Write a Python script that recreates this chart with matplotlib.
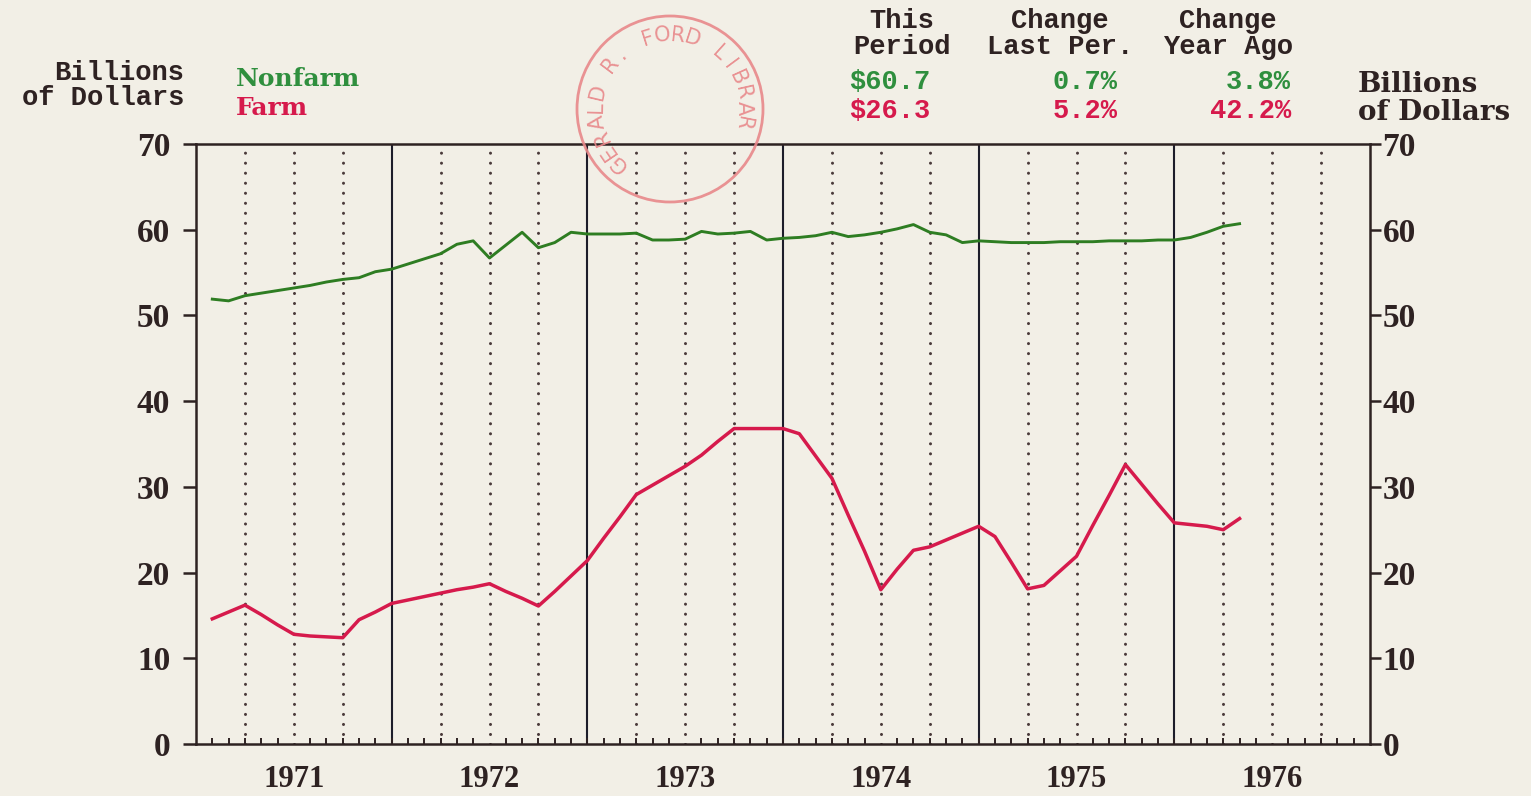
import numpy as np
import matplotlib.pyplot as plt
from matplotlib.patches import Circle

# monthly points, month 1 = Feb 1971 position (axis starts Jan 1971)
months = np.arange(1, 65)

nonfarm = [51.9, 51.7, 52.3, 52.6, 52.9, 53.2, 53.5, 53.9, 54.2, 54.4, 55.1, 55.4,
           56.0, 56.6, 57.2, 58.3, 58.7, 56.7, 58.2, 59.7, 57.9, 58.5, 59.7, 59.5,
           59.5, 59.5, 59.6, 58.8, 58.8, 58.9, 59.8, 59.5, 59.6, 59.8, 58.8, 59.0,
           59.1, 59.3, 59.7, 59.2, 59.4, 59.7, 60.1, 60.6, 59.7, 59.4, 58.5, 58.7,
           58.6, 58.5, 58.5, 58.5, 58.6, 58.6, 58.6, 58.7, 58.7, 58.7, 58.8, 58.8,
           59.1, 59.7, 60.4, 60.7]

farm = [14.6, 15.4, 16.2, 15.1, 13.9, 12.8, 12.6, 12.5, 12.4, 14.5, 15.4, 16.4,
        16.8, 17.2, 17.6, 18.0, 18.3, 18.7, 17.8, 17.0, 16.1, 17.8, 19.6, 21.4,
        24.0, 26.5, 29.1, 30.2, 31.3, 32.4, 33.7, 35.3, 36.8, 36.8, 36.8, 36.8,
        36.2, 33.6, 31.0, 26.7, 22.5, 18.0, 20.4, 22.6, 23.0, 23.8, 24.6, 25.4,
        24.2, 21.2, 18.1, 18.5, 20.2, 21.9, 25.5, 29.0, 32.6, 30.3, 28.0, 25.8,
        25.6, 25.4, 25.0, 26.3]

years = ['1971', '1972', '1973', '1974', '1975', '1976']
y_ticks = [0, 10, 20, 30, 40, 50, 60, 70]

header = [('This\nPeriod', 902), ('Change\nLast Per.', 1060), ('Change\nYear Ago', 1228)]
nonfarm_row = ['$60.7', '0.7%', '3.8%']
farm_row = ['$26.3', '5.2%', '42.2%']

bg = '#f2efe6'
ink = '#2e2222'
green_txt = '#2f8f3e'
green_line = '#2e7d22'
red = '#d61a4c'
stamp = '#e8888a'

W, H = 1531, 796
fig = plt.figure(figsize=(W / 100, H / 100), dpi=100, facecolor=bg)
ax = fig.add_axes([196 / W, 1 - 744 / H, (1370 - 196) / W, 600 / H])
ax.set_facecolor(bg)
ax.set_xlim(0, 72)
ax.set_ylim(0, 70)

# year lines solid, quarter lines dotted
for m in range(3, 72, 3):
    if m % 12 == 0:
        ax.axvline(m, color='#1d1d2a', lw=1.5, zorder=1)
    else:
        ax.axvline(m, color='#4a3a3a', lw=2.2, ls=(0, (0.01, 3.27)),
                   dash_capstyle='round', zorder=1)

ax.plot(months, nonfarm, color=green_line, lw=2.1, zorder=3)
ax.plot(months, farm, color=red, lw=2.5, zorder=3)

for s in ax.spines.values():
    s.set_color(ink)
    s.set_linewidth(1.8)

ax.set_xticks([6 + 12 * i for i in range(len(years))])
ax.set_xticklabels(years, fontfamily='Liberation Serif', fontweight='bold', fontsize=22, color=ink)
ax.tick_params(axis='x', which='major', length=0, pad=15)
ax.set_xticks(range(1, 72), minor=True)
ax.tick_params(axis='x', which='minor', direction='in', length=4.5, width=1.4, color=ink)

ax.set_yticks(y_ticks)
ax.set_yticklabels([str(v) for v in y_ticks], fontfamily='Liberation Serif',
                   fontweight='bold', fontsize=24, color=ink)
ax.tick_params(axis='y', direction='out', length=9.5, width=1.8, color=ink, pad=9)

ax2 = ax.twinx()
ax2.set_ylim(0, 70)
ax2.set_yticks(y_ticks)
ax2.set_yticklabels([str(v) for v in y_ticks], fontfamily='Liberation Serif',
                    fontweight='bold', fontsize=24, color=ink)
ax2.tick_params(axis='y', direction='out', length=8, width=1.8, color=ink, pad=1)
for s in ax2.spines.values():
    s.set_visible(False)

# overlay in pixel coordinates for the header texts and the stamp
ov = fig.add_axes([0, 0, 1, 1], zorder=5)
ov.set_xlim(0, W)
ov.set_ylim(H, 0)
ov.axis('off')
ov.patch.set_alpha(0)

mono = dict(fontfamily='Liberation Mono', fontweight='bold', fontsize=19.5)
serif = dict(fontfamily='DejaVu Serif', fontweight='bold')

ov.text(184, 73, 'Billions', ha='right', va='center', color=ink, **mono)
ov.text(184, 98, 'of Dollars', ha='right', va='center', color=ink, **mono)
ov.text(236, 79, 'Nonfarm', ha='left', va='center', color=green_txt, fontsize=18, **serif)
ov.text(236, 108, 'Farm', ha='left', va='center', color=red, fontsize=18, **serif)

for txt, xc in header:
    ov.text(xc, 34, txt, ha='center', va='center', color=ink, linespacing=1.0, **mono)

col_x = [849, 1118, 1291]
col_ha = ['left', 'right', 'right']
for row, y, c in [(nonfarm_row, 82, green_txt), (farm_row, 111, red)]:
    for txt, x, ha in zip(row, col_x, col_ha):
        ov.text(x, y, txt, ha=ha, va='center', color=c, **mono)

ov.text(1358, 84, 'Billions', ha='left', va='center', color=ink, fontsize=20, **serif)
ov.text(1358, 113, 'of Dollars', ha='left', va='center', color=ink, fontsize=20, **serif)

# archive stamp
cx, cy, r = 670, 109, 93
ov.add_patch(Circle((cx, cy), r, fill=False, ec=stamp, lw=2.0, alpha=0.9))
stamp_text = 'GERALD R. FORD LIBRAR'
for i, ch in enumerate(stamp_text):
    ang = 226 - 11.85 * i
    a = np.deg2rad(ang)
    ov.text(cx + 74 * np.cos(a), cy - 74 * np.sin(a), ch, rotation=ang - 90,
            ha='center', va='center', color=stamp, fontsize=15,
            fontfamily='DejaVu Sans', alpha=0.9)

fig.savefig('out.png', dpi=100, facecolor=bg)
